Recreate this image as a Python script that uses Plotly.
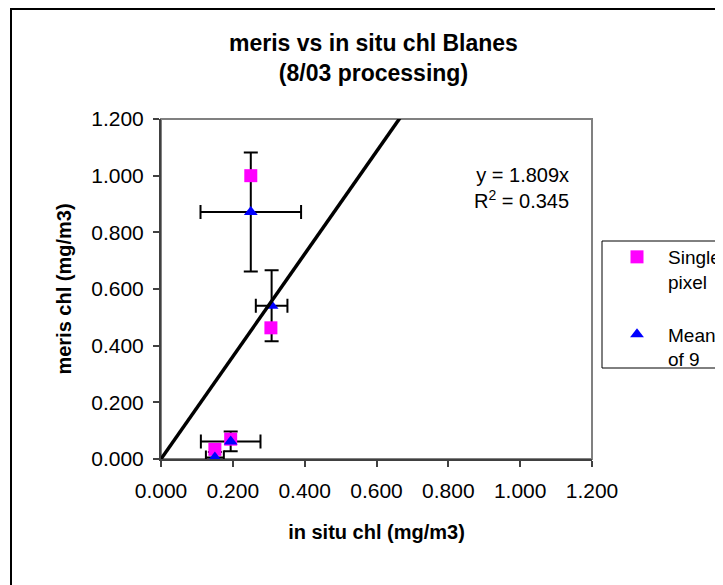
import plotly.graph_objects as go

# ---- data ----
single_x = [0.250, 0.306, 0.150, 0.194]
single_y = [1.000, 0.463, 0.034, 0.070]

mean_x = [0.250, 0.308, 0.150, 0.194]
mean_y = [0.872, 0.541, 0.005, 0.062]
mean_xerr = [0.140, 0.044, 0.025, 0.083]
mean_yerr = [0.210, 0.125, 0.020, 0.035]

trend_slope = 1.809
trend_r2 = 0.345
axis_max = 1.2

FONT = "Arial, 'Liberation Sans', sans-serif"

OFF = 8  # default page body margin
W, H = 723 - OFF, 585 - OFF
L, T = 161 - OFF, 119 - OFF
PW, PH = 431, 340
R, B = W - L - PW, H - T - PH

def px_x(p):
    return (p - OFF - L) / PW

def px_y(p):
    return (T + PH - (p - OFF)) / PH

fig = go.Figure()

# error bars of the mean series (drawn beneath markers)
fig.add_trace(go.Scatter(
    x=mean_x, y=mean_y, mode="markers",
    marker=dict(size=1, color="rgba(0,0,0,0)"),
    error_x=dict(type="data", array=mean_xerr, color="black", thickness=2, width=7),
    error_y=dict(type="data", array=mean_yerr, color="black", thickness=2, width=7),
    showlegend=False, hoverinfo="skip", cliponaxis=False,
))

fig.add_trace(go.Scatter(
    x=single_x, y=single_y, mode="markers", name="Single<br>pixel",
    marker=dict(symbol="square", size=13, color="#FF00FF"),
    legendgroup="a", cliponaxis=False,
))

fig.add_trace(go.Scatter(
    x=mean_x, y=mean_y, mode="markers", name="Mean<br>of 9",
    marker=dict(symbol="triangle-up", size=12, color="#0000FF"),
    legendgroup="b", cliponaxis=False,
))

# linear trendline through origin
tx = [0.0, axis_max]
fig.add_trace(go.Scatter(
    x=tx, y=[trend_slope * v for v in tx], mode="lines",
    line=dict(color="black", width=3.5), showlegend=False, hoverinfo="skip",
))

shapes = [
    # outer chart border
    dict(type="rect", xref="paper", yref="paper",
         x0=px_x(11), x1=px_x(760), y0=px_y(620), y1=px_y(9),
         line=dict(color="black", width=2), fillcolor="rgba(0,0,0,0)", layer="below"),
    # plot area border
    dict(type="rect", xref="paper", yref="paper", x0=0, x1=1, y0=0, y1=1,
         line=dict(color="#808080", width=2), fillcolor="white", layer="below"),
    # legend box
    dict(type="rect", xref="paper", yref="paper",
         x0=px_x(602), x1=px_x(760), y0=px_y(368), y1=px_y(241),
         line=dict(color="black", width=1), fillcolor="white", layer="below"),
]

annotations = [
    dict(text="<b>meris vs in situ chl Blanes<br>(8/03 processing)</b>",
         xref="paper", yref="paper", x=px_x(373), y=px_y(58),
         xanchor="center", yanchor="middle", showarrow=False,
         font=dict(family=FONT, size=23, color="black")),
    dict(text=f"y = {trend_slope:.3f}x<br>R<sup>2</sup> = {trend_r2:.3f}",
         xref="paper", yref="paper", x=px_x(571), y=px_y(188),
         xanchor="right", yanchor="middle", align="right", showarrow=False,
         font=dict(family=FONT, size=20, color="black")),
]

axis_common = dict(
    range=[0, axis_max], dtick=0.2, tick0=0, tickformat=".3f",
    showgrid=False, zeroline=False, showline=True, linecolor="#404040", linewidth=2,
    ticks="outside", ticklen=6, tickwidth=1.5, tickcolor="#404040",
    tickfont=dict(family=FONT, size=21, color="black"),
)

fig.update_layout(
    width=W, height=H,
    margin=dict(l=L, r=R, t=T, b=B, autoexpand=False),
    paper_bgcolor="white", plot_bgcolor="rgba(0,0,0,0)",
    font=dict(family=FONT, color="black"),
    xaxis=dict(**axis_common, ticklabelstandoff=6,
               title=dict(text="<b>in situ chl (mg/m3)</b>", standoff=24,
                          font=dict(family=FONT, size=20, color="black"))),
    yaxis=dict(**axis_common, ticklabelstandoff=5,
               title=dict(text="<b>meris chl (mg/m3)</b>", standoff=14,
                          font=dict(family=FONT, size=20, color="black"))),
    showlegend=True,
    legend=dict(x=px_x(606), y=px_y(238), xanchor="left", yanchor="top",
                bgcolor="rgba(0,0,0,0)", borderwidth=0, itemwidth=52,
                valign="top", traceorder="grouped", tracegroupgap=25,
                font=dict(family=FONT, size=19, color="black")),
    shapes=shapes, annotations=annotations,
)

fig.write_html("out.html")
